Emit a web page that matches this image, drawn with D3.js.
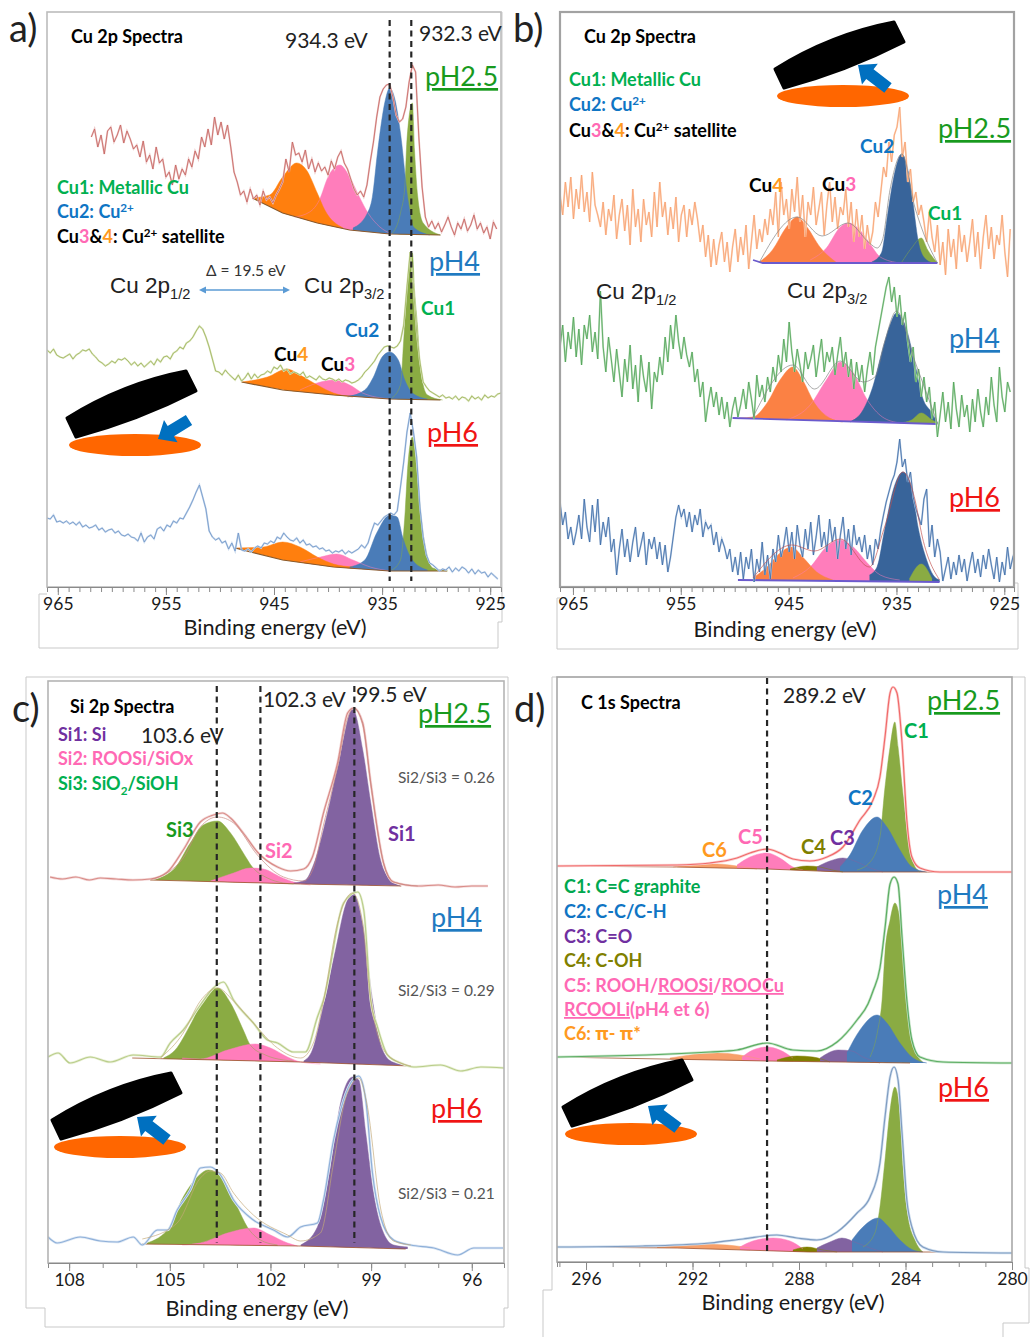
<!DOCTYPE html>
<html>
<head>
<meta charset="utf-8">
<script src="https://cdn.jsdelivr.net/npm/d3@7"></script>
<style>
    body { margin: 0; background: #fff; }
    text { font-family: Lato, "Noto Sans", sans-serif; }
</style>
</head>
<body>
<div id="chart"></div>
<script>
// measured spectra, intensities in arbitrary units above each panel's axis
// panel a, Cu 2p: evenly stepped scans
const aStep = 0.3;
const a25Start = 961.9;
const a25Trace = [450,458,440,452,433,456,460,445,452,462,444,456,448,438,
    442,430,446,425,432,418,440,424,428,410,415,
    402,422,408,418,412,428,420,436,428,450,440,
    458,442,470,452,465,448,462,
    440,415,405,392,
    396,385,398,388,392,382,396,387,390,384,392,398,
    405,428,415,445,432,434,
    425,437,418,428,415,424,416,420,412,426,418,430,
    436,424,418,408,398,392,
    396,390,402,425,445,
    470,490,498,502,503,
    490,472,465,468,
    480,505,522,
    515,450,400,370,360,
    366,358,364,355,362,370,360,352,364,358,368,356,362,372,358,364,354,360,348,365,358];
const a4Start = 966;
const a4Trace = [237,234,238,232,230,229,231,233,
    228,232,234,237,236,
    238,233,230,226,224,221,
    223,226,224,228,227,229,
    226,222,225,221,224,220,
    223,226,222,228,225,230,231,
    228,234,236,240,238,244,246,
    250,256,261,
    258,250,240,
    228,216,
    215,212,217,213,
    210,207,212,206,
    209,214,208,213,209,212,
    213,216,214,220,218,
    222,216,218,213,215,214,
    212,215,209,211,
    209,207,211,208,207,209,208,
    206,208,205,207,206,204,205,
    207,210,215,218,222,226,
    232,236,240,241,240,239,
    241,246,
    262,300,
    335,
    300,255,225,
    205,200,
    196,194,192,190,192,189,
    190,188,191,187,190,189,186,191,188,190,187,192,189,191,190,193,194];
const a6Start = 966;
const a6Trace = [69,68,72,65,66,64,
    66,63,65,62,
    65,60,62,59,
    60,62,57,59,55,57,
    58,54,56,52,51,53,50,49,
    46,54,45,50,
    52,48,58,60,
    56,62,60,66,64,69,
    68,74,80,87,
    95,102,
    90,
    78,56,
    50,47,49,44,
    46,38,44,
    36,54,37,
    36,38,35,39,
    41,39,44,43,
    46,44,50,48,54,
    50,47,46,49,44,
    47,42,43,40,41,
    38,39,36,37,34,36,
    35,37,33,36,34,
    36,38,42,39,
    44,55,64,62,
    66,70,72,74,
    72,76,
    100,125,
    155,174,
    155,130,
    80,
    50,32,24,
    22,19,16,18,17,
    20,15,19,16,20,18,
    14,18,13,17,14,15,10,14,11,
    8];

const a25Base = [[947.0,389],[944.2,374],[941.0,364],[938.0,357],[934.3,353],[929.6,352]];
const a25Orange = [[947.0,389],[945.4,392],[944.2,410],[942.9,424],[942.0,417],[941.0,394],[940.3,377],[938.6,359]];
const a25Pink = [[943.1,370],[941.7,375],[940.8,387],[940.0,410],[938.9,422],[938.0,410],[937.1,390],[936.3,374],[935.2,360],[934.1,353]];
const a25Blue = [[937.7,359],[936.4,373],[935.9,390],[935.4,437],[934.7,487],[934.3,499],[933.8,487],[933.3,454],[932.6,387],[932.1,360],[930.6,352]];
const a25Green = [[934.1,353],[933.3,374],[932.9,400],[932.7,447],[932.2,484],[932.0,437],[931.7,390],[931.2,364],[929.6,352]];

const a4Base = [[948.0,205],[944.2,197],[939.5,192],[934.3,188],[929.6,187]];
const a4Orange = [[948.0,205],[945.6,210],[943.8,218],[942.6,212],[941.0,202],[939.5,194],[937.7,190]];
const a4Pink = [[942.6,197],[941.0,204],[939.5,207],[938.0,202],[936.8,194],[934.3,188]];
const a4Blue = [[938.2,190],[936.6,197],[935.8,210],[935.0,230],[934.3,235],[933.5,227],[932.9,207],[932.2,194],[930.8,188]];
const a4Green = [[934.1,189],[933.3,202],[933.0,247],[932.7,297],[932.2,334],[932.0,297],[931.7,257],[931.5,222],[931.2,202],[930.8,192],[929.4,187]];

const a6Base = [[948.6,39],[944.2,27],[939.5,20],[934.3,16],[929.0,16]];
const a6Orange = [[948.6,39],[946.0,40],[944.2,45],[942.6,40],[941.0,30],[939.5,23],[937.7,20]];
const a6Pink = [[942.6,25],[940.7,30],[939.2,33],[937.7,27],[936.1,20],[934.3,16]];
const a6Blue = [[938.0,20],[936.6,27],[935.5,54],[934.3,72],[933.6,70],[933.1,50],[932.2,27],[930.8,17]];
const a6Green = [[934.1,17],[933.3,27],[932.9,70],[932.6,124],[932.2,150],[931.8,117],[931.4,70],[930.8,30],[930.3,19],[928.9,16]];

// panel b, Cu 2p: noisier scans
const bStep = 0.25;
const bStart = 966.2;
const b25Trace = [392,372,405,380,410,368,398,378,412,375,395,365,415,382,372,
    360,385,352,378,366,392,348,372,388,356,382,342,398,360,378,345,388,362,
    375,350,395,360,405,370,385,352,380,358,390,345,372,382,350,378,362,385,
    368,345,362,330,352,320,348,322,342,355,325,
    345,315,340,358,325,350,332,362,318,345,372,338,358,345,368,
    352,378,362,395,350,405,372,388,358,398,375,
    410,365,392,350,385,372,400,362,378,395,352,382,405,365,390,358,380,372,
    398,360,385,345,378,350,372,338,362,342,355,385,370,
    395,420,410,445,425,452,460,
    480,
    430,445,405,418,385,395,372,382,
    365,345,375,350,335,362,
    322,345,312,358,330,348,318,362,335,352,325,345,368,330,355,318,350,372,338,360,328,352,342,372,335,310,358];
const b4Trace = [240,262,225,255,238,270,230,258,222,262,248,272,235,255,228,296,240,215,250,
    228,205,238,214,190,228,205,242,198,222,185,232,210,195,225,178,215,205,
    230,212,250,225,262,238,272,245,228,250,232,
    220,235,205,218,190,205,165,185,
    200,180,195,172,190,168,185,160,178,
    190,170,182,198,178,205,188,168,212,190,202,185,210,
    195,220,205,232,215,248,225,265,235,
    215,238,222,205,235,218,228,242,210,230,248,215,235,225,240,212,232,250,220,235,
    210,228,198,225,205,222,195,218,235,212,240,
    255,270,285,300,310,
    285,300,270,292,262,275,
    245,225,240,205,218,190,
    210,185,200,168,185,150,
    172,195,165,185,158,205,178,160,192,170,182,155,188,165,198,175,160,190,172,210,182,165,220,190,175,205,195];
const b6Trace = [85,62,75,48,60,42,
    55,72,48,88,60,45,82,55,88,42,65,50,70,
    35,48,12,38,58,30,48,25,45,60,30,42,55,22,48,38,50,28,
    45,22,42,15,30,50,70,82,
    70,78,60,75,55,72,62,78,50,65,58,
    62,42,55,35,48,40,28,38,15,30,
    12,35,8,30,18,38,5,28,15,45,12,32,8,38,25,52,30,42,
    60,35,55,28,62,42,30,58,38,65,32,50,72,40,55,35,68,45,60,28,52,70,38,58,32,62,42,50,
    35,52,28,42,22,48,38,
    58,72,85,95,105,112,125,148,
    120,128,105,115,
    90,78,70,62,88,98,
    40,62,30,48,35,6,
    18,30,8,25,12,32,15,28,6,22,35,14,28,10,32,18,38,22,8,30,5,25,12,40,18,30,38];

const b25Base = [[948.3,327],[947.4,324],[931.2,324]];
const b25Orange = [[947.7,325],[946.5,337],[945.2,360],[944.2,370],[943.3,360],[942.1,340],[940.5,324]];
const b25Pink = [[943.0,327],[941.5,339],[940.2,360],[939.4,364],[938.4,357],[937.5,344],[936.5,330],[934.7,324]];
const b25Blue = [[937.3,325],[936.4,334],[935.8,374],[935.3,407],[934.5,433],[934.0,420],[933.5,387],[933.0,347],[932.4,329],[931.6,324]];
const b25Green = [[934.5,325],[933.6,339],[932.7,349],[932.1,337],[931.2,324]];
const b25Fit = [[947.7,325],[944.2,370],[941.9,351],[939.5,364],[937.5,344],[936.8,339],[936.3,347],[935.6,397],[934.5,433],[933.3,380],[932.6,357],[931.2,324]];

const b4Base = [[950.2,169],[931.2,163]];
const b4Orange = [[949.5,169],[948.3,170],[947.0,184],[945.8,207],[944.6,220],[943.7,207],[942.6,184],[941.2,169],[940.0,165]];
const b4Pink = [[945.2,167],[943.0,182],[941.5,207],[940.2,225],[939.0,214],[937.7,187],[936.3,170],[934.7,164]];
const b4Blue = [[939.3,165],[938.1,177],[937.2,200],[936.3,237],[935.6,262],[935.0,274],[934.2,262],[933.3,224],[932.6,190],[931.7,174],[931.2,164]];
const b4Green = [[934.7,164],[933.6,167],[932.7,174],[931.7,167],[931.2,164]];
const b4Fit = [[948.3,170],[944.6,222],[942.6,198],[940.2,226],[938.1,205],[937.0,210],[936.1,245],[935.0,276],[933.3,226],[931.2,164]];

const b6Base = [[949.7,7],[931.0,5]];
const b6Orange = [[948.3,9],[947.0,20],[945.8,34],[944.7,40],[943.7,30],[942.4,15],[940.9,7]];
const b6Pink = [[944.6,9],[943.0,20],[941.5,40],[940.2,47],[939.0,40],[937.7,24],[936.5,12],[934.7,7]];
const b6Blue = [[937.5,12],[936.8,20],[936.1,57],[935.3,97],[934.4,115],[933.6,100],[933.0,60],[932.2,27],[931.6,12],[931.0,7]];
const b6Green = [[933.8,8],[932.7,23],[931.7,8]];
const b6Fit = [[948.3,9],[944.7,42],[942.6,36],[940.2,48],[937.5,20],[936.1,60],[934.4,115],[933.3,88],[932.6,50],[931.0,7]];

// panel c, Si 2p
const c25Trace = [[108.57,386],[108.2,384],[107.8,386],[107.4,383],[107.07,385],[106.6,384],[106.1,383],[105.58,384],[105.07,391],[104.6,413],[104.09,441],[103.7,448],[103.43,450],[103.19,445],[102.81,430],[102.39,411],[101.79,396],[101.4,392],[101.01,394],[100.75,406],[100.42,450],[100.0,500],[99.7,550],[99.52,555],[99.25,540],[99.01,480],[98.63,400],[98.33,381],[97.61,377],[97.0,378],[96.5,376],[96.0,377],[95.52,377]];
const c25Fit = [[105.58,383],[104.6,405],[104.09,436],[103.58,446],[103.1,440],[102.39,408],[101.61,386],[101.01,382],[100.72,395],[100.42,438],[100.0,496],[99.7,545],[99.52,555],[99.25,538],[99.01,478],[98.63,400],[98.33,381],[97.61,377]];
const c25Base = [[105.58,383],[101.1,379],[98.1,377]];
const c25Green = [[105.58,383],[104.9,393],[104.39,420],[104.0,438],[103.58,442],[103.19,430],[102.81,410],[102.54,396],[102.09,385],[101.61,380],[101.31,379]];
const c25Pink = [[103.79,382],[103.1,390],[102.6,395],[102.21,394],[101.7,386],[101.31,381],[100.81,378]];
const c25Purple = [[101.31,380],[100.96,383],[100.72,398],[100.3,450],[99.91,510],[99.55,554],[99.25,513],[99.01,460],[98.72,403],[98.42,383],[98.12,377]];

const c4Trace = [[108.63,206],[108.33,210],[107.97,200],[107.37,206],[106.78,201],[106.09,208],[105.28,206],[104.99,220],[104.6,233],[104.09,258],[103.7,275],[103.4,281],[103.1,263],[102.51,240],[102.09,223],[101.79,220],[101.31,211],[100.96,211],[100.6,246],[100.42,263],[99.82,360],[99.4,371],[99.22,353],[99.01,263],[98.81,236],[98.51,208],[98.12,200],[97.73,196],[96.93,198],[96.33,192],[95.73,196],[95.04,195]];
const c4Fit = [[105.28,205],[104.6,230],[104.09,262],[103.58,275],[103.1,262],[102.51,240],[101.79,215],[101.1,205],[100.72,220],[100.42,262],[100.0,340],[99.55,370],[99.25,340],[99.01,262],[98.51,208],[97.82,197]];
const c4Base = [[106.12,205],[101.1,201],[97.82,197]];
const c4Green = [[105.19,205],[104.84,213],[104.39,238],[104.0,263],[103.58,275],[103.19,260],[102.81,233],[102.6,218],[102.15,208],[101.61,203],[101.31,202]];
const c4Pink = [[104.63,205],[104.09,204],[103.28,213],[102.45,219],[102.0,215],[101.49,206],[101.1,201],[100.51,199]];
const c4Purple = [[101.01,202],[100.75,213],[100.45,253],[100.06,313],[99.76,358],[99.55,370],[99.25,338],[98.96,263],[98.66,213],[98.36,201],[97.82,197]];

const c6Trace = [[108.63,26],[108.36,20],[107.67,26],[107.07,22],[106.57,21],[106.09,26],[105.82,18],[105.37,33],[105.07,33],[104.78,53],[104.39,73],[104.09,95],[103.79,96],[103.49,88],[103.1,63],[102.51,43],[101.91,33],[101.49,26],[101.1,36],[100.6,40],[100.42,63],[100.12,123],[99.91,153],[99.61,180],[99.37,187],[99.16,163],[98.96,90],[98.72,46],[98.33,23],[97.82,18],[97.13,15],[96.42,8],[95.94,15],[95.07,15]];
const c6Fit = [[105.82,24],[104.78,40],[104.09,85],[103.79,92],[103.49,90],[103.1,70],[102.51,48],[101.49,28],[101.1,22],[100.51,30],[100.12,100],[99.76,165],[99.55,180],[99.37,185],[99.13,160],[98.72,55],[98.33,22],[97.82,18]];
const c6Base = [[105.82,19],[101.1,17],[97.97,14]];
const c6Green = [[105.79,19],[105.07,33],[104.6,66],[104.18,86],[103.85,93],[103.4,83],[102.99,56],[102.69,36],[102.3,23],[101.79,18]];
const c6Pink = [[104.63,18],[104.09,20],[103.28,30],[102.51,35],[102.0,28],[101.49,20],[101.19,17]];
const c6Purple = [[101.1,18],[100.6,36],[100.21,96],[99.91,160],[99.55,186],[99.37,183],[99.16,130],[98.93,70],[98.63,30],[98.33,18],[97.91,16]];

// panel d, C 1s
const d25Trace = [[297.09,396],[292.58,397],[291.34,399],[290.33,404],[289.84,409],[289.2,413],[288.72,409],[288.23,403],[287.59,401],[286.95,405],[286.35,415],[285.71,442],[285.22,462],[284.96,485],[284.77,525],[284.58,569],[284.47,575],[284.32,569],[284.13,519],[283.95,442],[283.76,405],[283.46,394],[282.71,390],[280.0,390]];
const d25Base = [[297.09,396],[292.6,395],[289.2,393],[286.35,390],[282.7,390]];
const d25Orange = [[292.73,395],[291.83,398],[291.08,398],[290.33,396],[289.58,393]];
const d25Pink = [[290.33,397],[289.84,405],[289.2,409],[288.72,404],[288.23,395],[287.85,392]];
const d25Olive = [[288.34,393],[287.7,396],[287.21,395],[286.76,392],[286.35,390]];
const d25Purple = [[287.33,395],[286.84,401],[286.35,404],[285.82,400],[285.33,394],[284.85,390]];
const d25Blue = [[286.46,395],[286.09,407],[285.6,432],[285.07,445],[284.7,435],[284.21,412],[283.76,395],[283.2,390]];
const d25Green = [[285.82,392],[285.33,400],[284.96,425],[284.77,475],[284.58,515],[284.4,540],[284.28,515],[284.1,469],[283.91,425],[283.72,400],[283.46,390]];

const d4Trace = [[297.09,205],[291.34,210],[290.33,212],[289.2,219],[288.23,212],[287.33,211],[286.57,220],[285.82,242],[285.41,258],[285.22,271],[284.96,294],[284.77,334],[284.58,378],[284.43,385],[284.28,378],[284.13,325],[283.95,262],[283.76,222],[283.46,205],[282.59,200],[280.0,199]];
const d4Base = [[297.09,205],[289.2,201],[283.83,199]];
const d4Orange = [[292.85,204],[291.08,209],[290.22,207],[289.47,203]];
const d4Pink = [[290.14,205],[289.73,212],[289.2,215],[288.72,212],[288.23,204]];
const d4Olive = [[288.83,202],[288.08,206],[287.48,205],[286.84,200]];
const d4Purple = [[287.21,204],[286.53,212],[286.01,211],[285.6,205],[284.96,199]];
const d4Blue = [[286.2,209],[285.71,232],[285.07,247],[284.7,239],[284.21,219],[283.72,204],[283.2,199]];
const d4Green = [[285.33,205],[285.04,232],[284.88,262],[284.77,309],[284.58,342],[284.4,359],[284.21,342],[284.1,309],[283.95,262],[283.83,229],[283.65,212],[283.35,200]];

const d6Trace = [[297.09,15],[293.86,16],[291.34,19],[290.1,23],[288.83,27],[288.08,24],[287.33,22],[286.57,30],[285.82,49],[285.33,65],[284.96,99],[284.77,145],[284.58,185],[284.43,195],[284.28,182],[284.13,129],[283.95,62],[283.76,35],[283.35,15],[282.59,10],[280.0,9]];
const d6Base = [[297.09,15],[292.58,14],[287.59,10],[282.71,10]];
const d6Orange = [[293.33,15],[291.83,18],[290.71,17],[289.84,14]];
const d6Pink = [[290.22,15],[289.73,21],[288.98,24],[288.34,21],[287.85,13]];
const d6Olive = [[288.23,12],[287.7,15],[287.1,12],[286.57,10]];
const d6Purple = [[287.33,14],[286.84,20],[286.39,24],[285.82,19],[285.33,14],[284.85,10]];
const d6Blue = [[286.01,22],[285.6,35],[285.03,44],[284.7,37],[284.21,22],[283.72,12],[283.35,10]];
const d6Green = [[285.6,15],[285.15,29],[284.96,55],[284.77,102],[284.58,152],[284.4,175],[284.21,149],[284.1,95],[283.91,45],[283.65,22],[283.35,10]];

// axis ticks
const cuMajor = [965, 955, 945, 935, 925];
const cuMinor = d3.range(925, 966, 1);
const siMajor = [108, 105, 102, 99, 96];
const siMinor = d3.range(96, 109, 1);
const cMajor = [296, 292, 288, 284, 280];
const cMinor = d3.range(280, 298, 1);

// fitted peak positions marked by the dashed lines
const aMarks = [934.3, 932.3];
const bMarks = [];
const cMarks = [103.6, 102.3, 99.5];
const dMarks = [289.2];

const colors = {
    orange: "#ff7f0e", softOrange: "#fb8144", pink: "#ff7dbb", blue: "#4a7cb8", navy: "#38649a",
    green: "#8aab43", purple: "#8263a1", olive: "#808000", softOrange2: "#f7a06a"
};

const svgWidth = 1030;
const svgHeight = 1337;

const svg = d3.select("#chart")
    .append("svg")
    .attr("width", svgWidth)
    .attr("height", svgHeight);

svg.append("defs");

function series(start, step, values) {
    return values.map((v, i) => [start - i * step, v]);
}

const panels = [
    {
        id: "a", left: 47, right: 501, top: 12, bottom: 587, domain: [966, 924], frame: "#bcbcbc", frameWidth: 1.6,
        major: cuMajor, minor: cuMinor, marks: aMarks, markTop: 567, markBottom: 6, baseWidth: 1.2,
        outer: "M47,594H39V648H498V622H502V12", axisLabelX: 275, axisLabelY: 635,
        spectra: [
            { trace: series(a25Start, aStep, a25Trace), color: "#c5625e", pale: "#ecc6c5", base: a25Base, baseColor: "#8a5a2b",
              peaks: [[a25Green, colors.green], [a25Pink, colors.pink], [a25Orange, colors.orange], [a25Blue, colors.blue]] },
            { trace: series(a4Start, aStep, a4Trace), color: "#9db35c", pale: "#dce6bd", base: a4Base, baseColor: "#8a5a2b",
              peaks: [[a4Green, colors.green], [a4Pink, colors.pink], [a4Orange, colors.orange], [a4Blue, colors.blue]] },
            { trace: series(a6Start, aStep, a6Trace), color: "#6f95c8", pale: "#c6d7ec", base: a6Base, baseColor: "#8a5a2b",
              peaks: [[a6Green, colors.green], [a6Pink, colors.pink], [a6Orange, colors.orange], [a6Blue, colors.blue]] }
        ]
    },
    {
        id: "b", left: 560, right: 1014, top: 12, bottom: 587, domain: [966.2, 924.1], frame: "#a2a2a2", frameWidth: 2.2,
        major: cuMajor, minor: cuMinor, marks: bMarks, baseWidth: 1.8,
        outer: "M560,598H557V649H1018V583H1014", axisLabelX: 785, axisLabelY: 637,
        spectra: [
            { trace: series(bStart, bStep, b25Trace), color: "#f7a06e", pale: "#fcd5bb", base: b25Base, baseColor: "#6a5acd", fit: b25Fit, fitColor: "#808080",
              peaks: [[b25Pink, colors.pink], [b25Orange, colors.softOrange], [b25Green, colors.green], [b25Blue, colors.navy]] },
            { trace: series(bStart, bStep, b4Trace), color: "#4ea356", pale: "#b9dcb9", base: b4Base, baseColor: "#6a5acd", fit: b4Fit, fitColor: "#808080",
              peaks: [[b4Pink, colors.pink], [b4Orange, colors.softOrange], [b4Blue, colors.navy], [b4Green, colors.green]] },
            { trace: series(bStart, bStep, b6Trace), color: "#3a69a6", pale: "#b7cae2", base: b6Base, baseColor: "#6a5acd", fit: b6Fit, fitColor: "#c0504d",
              peaks: [[b6Pink, colors.pink], [b6Orange, colors.softOrange], [b6Blue, colors.navy], [b6Green, colors.green]] }
        ]
    },
    {
        id: "c", left: 48, right: 504, top: 681, bottom: 1263, domain: [108.63, 95.04], frame: "#b4b4b4", frameWidth: 1.6,
        major: siMajor, minor: siMinor, marks: cMarks, markTop: 577, markBottom: 20, baseWidth: 0.8,
        outer: "M26,677H508V1308H504V1327H45V1308H26Z", axisLabelX: 257, axisLabelY: 1316,
        spectra: [
            { trace: c25Trace, smooth: true, color: "#d98c88", pale: "#f3d8d8", base: c25Base, baseColor: "#a0522d", fit: c25Fit, fitColor: "#c98880",
              peaks: [[c25Green, colors.green], [c25Pink, colors.pink], [c25Purple, colors.purple]] },
            { trace: c4Trace, smooth: true, color: "#b9cd8a", pale: "#e9f0d6", base: c4Base, baseColor: "#a0522d", fit: c4Fit, fitColor: "#c4a878",
              peaks: [[c4Green, colors.green], [c4Pink, colors.pink], [c4Purple, colors.purple]] },
            { trace: c6Trace, smooth: true, color: "#8fb0d9", pale: "#dce7f4", base: c6Base, baseColor: "#a0522d", fit: c6Fit, fitColor: "#c4a878",
              peaks: [[c6Green, colors.green], [c6Pink, colors.pink], [c6Purple, colors.purple]] }
        ]
    },
    {
        id: "d", left: 557, right: 1012, top: 677, bottom: 1262, domain: [297.09, 280], frame: "#a8a8a8", frameWidth: 1.6,
        major: cMajor, minor: cMinor, marks: dMarks, markTop: 584, markBottom: 8, baseWidth: 0.8,
        outer: "M543,1337V1290H552V677H1025V1268H1029V1323H1003V1337", axisLabelX: 793, axisLabelY: 1310,
        spectra: [
            { trace: d25Trace, smooth: true, color: "#f06a6a", pale: "#fbd0d0", base: d25Base, baseColor: "#a0522d",
              peaks: [[d25Orange, colors.softOrange2], [d25Pink, colors.pink], [d25Olive, colors.olive], [d25Purple, colors.purple], [d25Green, colors.green], [d25Blue, colors.blue]] },
            { trace: d4Trace, smooth: true, color: "#5cad63", pale: "#c6e4c8", base: d4Base, baseColor: "#a0522d",
              peaks: [[d4Orange, colors.softOrange2], [d4Pink, colors.pink], [d4Olive, colors.olive], [d4Purple, colors.purple], [d4Green, colors.green], [d4Blue, colors.blue]] },
            { trace: d6Trace, smooth: true, color: "#7f9cc0", pale: "#cfdeef", base: d6Base, baseColor: "#a0522d",
              peaks: [[d6Orange, colors.softOrange2], [d6Pink, colors.pink], [d6Olive, colors.olive], [d6Purple, colors.purple], [d6Green, colors.green], [d6Blue, colors.blue]] }
        ]
    }
];

// draws one spectrum panel with its own scales and axes
function drawPanel(p) {
    let xScale = d3.scaleLinear().domain(p.domain).range([p.left, p.right]);
    let yScale = d3.scaleLinear().domain([0, p.bottom - p.top]).range([p.bottom, p.top]);

    svg.append("path")
        .attr("d", p.outer)
        .attr("fill", "none")
        .attr("stroke", "#c9c9c9")
        .attr("stroke-width", 1);

    svg.select("defs").append("clipPath")
        .attr("id", "clip-" + p.id)
        .append("rect")
        .attr("x", p.left)
        .attr("y", p.top)
        .attr("width", p.right - p.left)
        .attr("height", p.bottom - p.top);

    let plot = svg.append("g").attr("clip-path", `url(#clip-${p.id})`);

    p.spectra.forEach(function(s) {
        // baseline is a piecewise linear scale over the measured points
        let baseScale = d3.scaleLinear()
            .domain(s.base.map(d => d[0]))
            .range(s.base.map(d => d[1]))
            .clamp(true);

        let area = d3.area()
            .x(d => xScale(d[0]))
            .y0(d => yScale(baseScale(d[0])))
            .y1(d => yScale(Math.max(d[1], baseScale(d[0]))))
            .curve(d3.curveMonotoneX);

        let top = d3.line()
            .x(d => xScale(d[0]))
            .y(d => yScale(d[1]))
            .curve(d3.curveMonotoneX);

        s.peaks.forEach(function(peak) {
            plot.append("path")
                .attr("d", area(peak[0]))
                .attr("fill", peak[1]);
        });

        s.peaks.forEach(function(peak) {
            plot.append("path")
                .attr("d", top(peak[0]))
                .attr("fill", "none")
                .attr("stroke", peak[1])
                .attr("stroke-width", 0.8)
                .attr("stroke-opacity", 0.6);
        });

        plot.append("path")
            .attr("d", d3.line().x(d => xScale(d[0])).y(d => yScale(d[1]))(s.base))
            .attr("fill", "none")
            .attr("stroke", s.baseColor)
            .attr("stroke-width", p.baseWidth);

        let traceLine = d3.line()
            .x(d => xScale(d[0]))
            .y(d => yScale(d[1]))
            .curve(s.smooth ? d3.curveMonotoneX : d3.curveLinear);

        plot.append("path")
            .attr("d", traceLine(s.trace))
            .attr("fill", "none")
            .attr("stroke", s.pale)
            .attr("stroke-width", s.smooth ? 2.6 : 1.8);

        plot.append("path")
            .attr("d", traceLine(s.trace))
            .attr("fill", "none")
            .attr("stroke", s.color)
            .attr("stroke-width", s.smooth ? 1.2 : 0.8);

        if (s.fit) {
            plot.append("path")
                .attr("d", top(s.fit))
                .attr("fill", "none")
                .attr("stroke", s.fitColor)
                .attr("stroke-opacity", 0.75)
                .attr("stroke-width", 0.9);
        }
    });

    // dashed lines at the fitted positions
    p.marks.forEach(function(m) {
        svg.append("line")
            .attr("x1", xScale(m))
            .attr("x2", xScale(m))
            .attr("y1", yScale(p.markTop))
            .attr("y2", yScale(p.markBottom))
            .attr("stroke", "#262626")
            .attr("stroke-width", 2.2)
            .attr("stroke-dasharray", "6,4.5");
    });

    // frame
    svg.append("rect")
        .attr("x", p.left)
        .attr("y", p.top)
        .attr("width", p.right - p.left)
        .attr("height", p.bottom - p.top)
        .attr("fill", "none")
        .attr("stroke", p.frame)
        .attr("stroke-width", p.frameWidth);

    // axes, minor first so that the labelled ticks sit above them
    let minorAxis = d3.axisBottom(xScale).tickValues(p.minor).tickSize(5).tickFormat("");
    let majorAxis = d3.axisBottom(xScale).tickValues(p.major).tickSize(8).tickPadding(3).tickFormat(d3.format("d"));

    svg.append("g").attr("transform", `translate(0, ${p.bottom})`).call(minorAxis)
        .call(g => g.selectAll("line").attr("stroke", "#8a8a8a"))
        .call(g => g.select(".domain").attr("stroke", "#8a8a8a"));

    svg.append("g").attr("transform", `translate(0, ${p.bottom})`).call(majorAxis)
        .call(g => g.selectAll("line").attr("stroke", "#8a8a8a"))
        .call(g => g.select(".domain").remove())
        .call(g => g.selectAll("text")
            .attr("font-size", "17.5px")
            .attr("fill", "#1a1a1a")
            .style("font-family", "Lato"));

    svg.append("text")
        .attr("x", p.axisLabelX)
        .attr("y", p.axisLabelY)
        .attr("text-anchor", "middle")
        .attr("font-size", "21.7px")
        .attr("fill", "#1a1a1a")
        .text("Binding energy (eV)");
}

panels.forEach(drawPanel);

// sample holder sketch: tilted black disc, orange sample, blue beam arrow
function drawHolder(cx, cy, tail, tip) {
    svg.append("ellipse")
        .attr("cx", cx)
        .attr("cy", cy)
        .attr("rx", 66)
        .attr("ry", 11)
        .attr("fill", "#ff6600");

    svg.append("path")
        .attr("d", `M${cx - 68},${cy - 27}Q${cx - 12},${cy - 62} ${cx + 51},${cy - 74}L${cx + 61},${cy - 54}Q${cx + 2},${cy - 24} ${cx - 59},${cy - 8}Z`)
        .attr("fill", "#000")
        .attr("stroke", "#000")
        .attr("stroke-width", 3)
        .attr("stroke-linejoin", "round");

    let dx = tip[0] - tail[0];
    let dy = tip[1] - tail[1];
    let len = Math.sqrt(dx * dx + dy * dy);
    let ux = dx / len;
    let uy = dy / len;
    let nx = -uy;
    let ny = ux;
    let neck = [tip[0] - ux * 15, tip[1] - uy * 15];
    let points = [
        [tail[0] + nx * 6, tail[1] + ny * 6],
        [neck[0] + nx * 6, neck[1] + ny * 6],
        [neck[0] + nx * 13, neck[1] + ny * 13],
        tip,
        [neck[0] - nx * 13, neck[1] - ny * 13],
        [neck[0] - nx * 6, neck[1] - ny * 6],
        [tail[0] - nx * 6, tail[1] - ny * 6]
    ];

    svg.append("polygon")
        .attr("points", points.map(d => d.join(",")).join(" "))
        .attr("fill", "#0070c0");
}

drawHolder(135, 445, [189, 420], [158, 439]);
drawHolder(843, 96, [888, 88], [858, 65]);
drawHolder(120, 1147, [167, 1140], [137, 1117]);
drawHolder(631, 1134, [678, 1128], [648, 1106]);

// text helper: parts are plain strings or [string, style] pairs
function label(x, y, parts, style) {
    let t = svg.append("text")
        .attr("x", x)
        .attr("y", y)
        .attr("font-size", style.size + "px")
        .attr("font-weight", style.bold ? "bold" : "normal")
        .attr("fill", style.fill || "#000")
        .style("font-family", style.font || "Lato");

    if (style.under) t.attr("text-decoration", "underline");

    let list = Array.isArray(parts) ? parts : [parts];
    let shift = 0;
    list.forEach(function(part) {
        let text = Array.isArray(part) ? part[0] : part;
        let opt = Array.isArray(part) ? part[1] : {};
        let span = t.append("tspan").text(text);
        let dy = -shift;
        shift = 0;
        if (opt.sup) { dy -= style.size * 0.35; shift = -style.size * 0.35; }
        if (opt.sub) { dy += style.size * 0.25; shift = style.size * 0.25; }
        if (dy !== 0) span.attr("dy", dy);
        if (opt.sup || opt.sub) span.attr("font-size", style.size * 0.65 + "px");
        if (opt.fill) span.attr("fill", opt.fill);
        if (opt.under) span.attr("text-decoration", "underline");
        if (opt.font) span.style("font-family", opt.font);
    });
}

const legendGreen = "#00b050";
const legendBlue = "#0f75c4";
const tagPink = "#ff69b4";
const tagOrange = "#ff9a1f";
const phGreen = "#189a1e";
const phBlue = "#1f7ac1";
const phRed = "#f01414";
const siPurple = "#7030a0";
const legendSize = 18;

function phTags(list) {
    list.forEach(function(d) {
        label(d[0], d[1], d[2], { size: 27, fill: d[3], under: true });
    });
}

function cuLegend(x, y1, y2, y3) {
    label(x, y1, "Cu1: Metallic Cu", { size: legendSize, bold: true, fill: legendGreen });
    label(x, y2, ["Cu2: Cu", ["2+", { sup: true }]], { size: legendSize, bold: true, fill: legendBlue });
    label(x, y3, ["Cu", ["3", { fill: tagPink }], "&", ["4", { fill: tagOrange }], ": Cu", ["2+", { sup: true }], " satellite"], { size: legendSize, bold: true });
}

function orbital(x, y, sub) {
    label(x, y, ["Cu 2p", [sub, { sub: true }]], { size: 22.5, fill: "#222", font: "Liberation Sans" });
}

// panel letters
[["a)", 9, 42], ["b)", 513, 42], ["c)", 12, 722], ["d)", 514, 722]].forEach(function(d) {
    label(d[1], d[2], d[0], { size: 38, fill: "#222" });
});

// panel a texts
label(71, 43, "Cu 2p Spectra", { size: legendSize, bold: true });
label(285, 48, "934.3 eV", { size: 21, fill: "#222" });
label(419, 41, "932.3 eV", { size: 21, fill: "#222" });
phTags([[425, 86, "pH2.5", phGreen], [429, 271, "pH4", phBlue], [427, 442, "pH6", phRed]]);
cuLegend(57, 194, 218, 243);
label(206, 276, "Δ = 19.5 eV", { size: 15.5, fill: "#333" });
orbital(110, 293, "1/2");
orbital(304, 293, "3/2");
svg.append("line").attr("x1", 203).attr("x2", 286).attr("y1", 290).attr("y2", 290)
    .attr("stroke", "#5b9bd5").attr("stroke-width", 1.5);
svg.append("polygon").attr("points", "199,290 206,286.5 206,293.5").attr("fill", "#5b9bd5");
svg.append("polygon").attr("points", "290,290 283,286.5 283,293.5").attr("fill", "#5b9bd5");
label(421, 315, "Cu1", { size: 19, bold: true, fill: legendGreen });
label(345, 337, "Cu2", { size: 19, bold: true, fill: legendBlue });
label(274, 361, ["Cu", ["4", { fill: tagOrange }]], { size: 19, bold: true });
label(321, 371, ["Cu", ["3", { fill: tagPink }]], { size: 19, bold: true });

// panel b texts
label(584, 43, "Cu 2p Spectra", { size: legendSize, bold: true });
cuLegend(569, 86, 111, 137);
phTags([[938, 138, "pH2.5", phGreen], [949, 348, "pH4", phBlue], [949, 507, "pH6", phRed]]);
label(860, 153, "Cu2", { size: 19, bold: true, fill: legendBlue });
label(928, 220, "Cu1", { size: 19, bold: true, fill: legendGreen });
label(749, 192, ["Cu", ["4", { fill: tagOrange }]], { size: 19, bold: true });
label(822, 191, ["Cu", ["3", { fill: tagPink }]], { size: 19, bold: true });
orbital(596, 299, "1/2");
orbital(787, 298, "3/2");

// panel c texts
label(70, 713, "Si 2p Spectra", { size: legendSize, bold: true });
label(58, 741, "Si1: Si", { size: legendSize, bold: true, fill: siPurple });
label(58, 765, "Si2: ROOSi/SiOx", { size: legendSize, bold: true, fill: tagPink });
label(58, 790, ["Si3: SiO", ["2", { sub: true }], "/SiOH"], { size: legendSize, bold: true, fill: legendGreen });
label(141, 743, "103.6 eV", { size: 21, fill: "#222" });
label(263, 707, "102.3 eV", { size: 21, fill: "#222" });
label(356, 702, "99.5 eV", { size: 21, fill: "#222" });
phTags([[418, 723, "pH2.5", phGreen], [431, 927, "pH4", phBlue], [431, 1118, "pH6", phRed]]);
label(398, 783, "Si2/Si3 = 0.26", { size: 15.5, fill: "#555" });
label(398, 996, "Si2/Si3 = 0.29", { size: 15.5, fill: "#555" });
label(398, 1199, "Si2/Si3 = 0.21", { size: 15.5, fill: "#555" });
label(166, 837, "Si3", { size: 20, bold: true, fill: phGreen });
label(265, 858, "Si2", { size: 20, bold: true, fill: tagPink });
label(388, 841, "Si1", { size: 20, bold: true, fill: siPurple });

// panel d texts
label(581, 709, "C 1s Spectra", { size: legendSize, bold: true });
label(783, 703, "289.2 eV", { size: 21, fill: "#222" });
phTags([[927, 710, "pH2.5", phGreen], [937, 904, "pH4", phBlue], [938, 1097, "pH6", phRed]]);
label(904, 738, "C1", { size: 20, bold: true, fill: legendGreen });
label(848, 805, "C2", { size: 20, bold: true, fill: legendBlue });
label(830, 845, "C3", { size: 20, bold: true, fill: siPurple });
label(801, 854, "C4", { size: 20, bold: true, fill: "#7f7f00" });
label(738, 844, "C5", { size: 20, bold: true, fill: tagPink });
label(702, 857, "C6", { size: 20, bold: true, fill: tagOrange });
label(564, 893, "C1: C=C graphite", { size: legendSize, bold: true, fill: "#00a84f" });
label(564, 918, "C2: C-C/C-H", { size: legendSize, bold: true, fill: legendBlue });
label(564, 943, "C3: C=O", { size: legendSize, bold: true, fill: siPurple });
label(564, 967, "C4: C-OH", { size: legendSize, bold: true, fill: "#7f7f00" });
label(564, 992, ["C5: ROOH/", ["ROOSi", { under: true }], "/", ["ROOCu", { under: true }]], { size: legendSize, bold: true, fill: tagPink });
label(564, 1016, [["RCOOLi", { under: true }], "(pH4 et 6)"], { size: legendSize, bold: true, fill: tagPink });
label(564, 1040, ["C6: ", ["π", { font: "Noto Sans" }], "- ", ["π", { font: "Noto Sans" }], "*"], { size: legendSize, bold: true, fill: tagOrange });
</script>
</body>
</html>
